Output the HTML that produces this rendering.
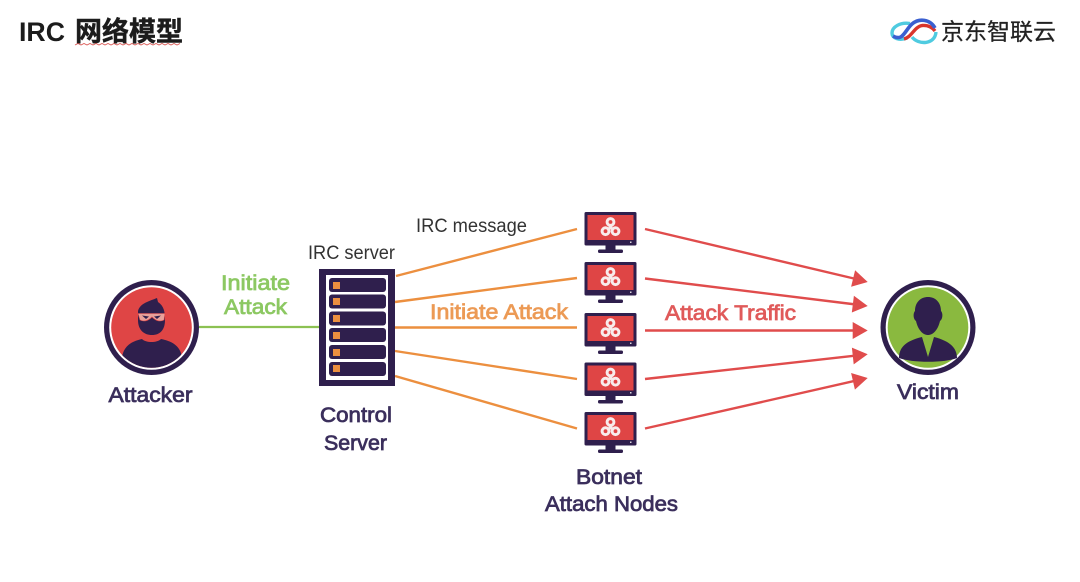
<!DOCTYPE html>
<html><head><meta charset="utf-8"><style>
html,body{margin:0;padding:0;background:#fff}
svg{display:block}
text{font-family:"Liberation Sans","Noto Sans CJK SC",sans-serif}
.n{fill:#3b2f5c;font-size:21px;stroke:#3b2f5c;stroke-width:.75}
</style></head><body>
<svg width="1080" height="582" viewBox="0 0 1080 582" xmlns="http://www.w3.org/2000/svg">
<defs>
<g id="mon">
<rect x="0" y="0" width="52" height="33.5" rx="1.5" fill="#2f1f4d"/>
<rect x="3" y="3" width="46" height="25" fill="#df4545"/>
<rect x="21" y="33" width="10" height="5" fill="#2f1f4d"/>
<rect x="13.5" y="37.5" width="25" height="3.5" rx="1.5" fill="#2f1f4d"/>
<g fill="none" stroke="#f8ecec">
<circle cx="26" cy="10" r="3.4" stroke-width="3"/>
<circle cx="21" cy="19.2" r="3.4" stroke-width="3"/>
<circle cx="31" cy="19.2" r="3.4" stroke-width="3"/>
</g>
<circle cx="26" cy="15.5" r="2" fill="#f8ecec"/>
<rect x="45.5" y="29.5" width="1.5" height="1.5" fill="#dcd8e4"/>
</g>
</defs>

<!-- title -->
<text x="19" y="41" font-size="27" font-weight="bold" fill="#1c1c1c" textLength="46" lengthAdjust="spacingAndGlyphs">IRC</text>
<text x="75" y="41" font-size="27" font-weight="bold" fill="#1c1c1c" textLength="108" lengthAdjust="spacingAndGlyphs" stroke="#1c1c1c" stroke-width=".5">网络模型</text>
<path d="M75 45 l3 -1.5 3 1.5 3 -1.5 3 1.5 3 -1.5 3 1.5 3 -1.5 3 1.5 3 -1.5 3 1.5 3 -1.5 3 1.5 3 -1.5 3 1.5 3 -1.5 3 1.5 3 -1.5 3 1.5 3 -1.5 3 1.5 3 -1.5 3 1.5 3 -1.5 3 1.5 3 -1.5 3 1.5 3 -1.5 3 1.5 3 -1.5 3 1.5 3 -1.5 3 1.5 3 -1.5 3 1.5 3 -1.5" fill="none" stroke="#d9534f" stroke-width="0.8"/>

<!-- logo -->
<path d="M910 23.5 C900 22 892 27 892 33 C892 38 899 41 907 38" fill="none" stroke="#4fcbe0" stroke-width="3.4"/>
<path d="M912 37 C918 45 935 45 936 32" fill="none" stroke="#4fcbe0" stroke-width="3.4"/>
<path d="M904 39 C912 37 914 27 922 25.5 C928 25 932 27 935 31" fill="none" stroke="#d9352c" stroke-width="3.4"/>
<path d="M893 36 C903 42 905 30 912 24 C919 18 930 19 935 28" fill="none" stroke="#3a5fd0" stroke-width="3.6"/>
<text x="941" y="39.5" font-size="23" fill="#222" stroke="#222" stroke-width=".25" textLength="115" lengthAdjust="spacingAndGlyphs">京东智联云</text>

<!-- green line -->
<line x1="199" y1="327" x2="320" y2="327" stroke="#8cc152" stroke-width="2.2"/>

<!-- orange lines -->
<g stroke="#ec8f3f" stroke-width="2.4" fill="none">
<line x1="396" y1="276" x2="577" y2="229"/>
<line x1="395" y1="302" x2="577" y2="278"/>
<line x1="395" y1="327.5" x2="577" y2="327.5"/>
<line x1="395" y1="351" x2="577" y2="379"/>
<line x1="395" y1="376" x2="577" y2="428.5"/>
</g>

<!-- red arrows -->
<g stroke="#e04c4c" stroke-width="2.4" fill="none">
<line x1="645" y1="229" x2="856" y2="279"/>
<line x1="645" y1="278.5" x2="856" y2="304.5"/>
<line x1="645" y1="330.5" x2="856" y2="330.5"/>
<line x1="645" y1="379" x2="856" y2="355.6"/>
<line x1="645" y1="428.5" x2="856" y2="380.6"/>
</g>
<g fill="#e04c4c">
<polygon points="867.7,282 855.1,270.2 851.1,286.8"/>
<polygon points="867.7,306 853.9,295.7 851.8,312.5"/>
<polygon points="867.7,330.5 852.7,322 852.7,339"/>
<polygon points="867.7,354.3 851.9,347.6 853.7,364.4"/>
<polygon points="867.7,378 851.1,373 854.9,389.6"/>
</g>

<!-- attacker -->
<circle cx="151.5" cy="327.5" r="47.5" fill="#2f1f4d"/>
<circle cx="151.5" cy="327.5" r="42.3" fill="#fff"/>
<circle cx="151.5" cy="327.5" r="40.3" fill="#df4545"/>
<clipPath id="ca"><circle cx="151.5" cy="327.5" r="40.3"/></clipPath>
<g clip-path="url(#ca)" fill="#2f1f4d">
<path d="M122 357 C124 345 133 341 142 339 C146 343 157 343 161 339 C171 341 180 345 182 357 C170 372 135 372 122 357Z"/>
<path d="M138 311 C140 303 150 301 157 298 L158 302 C164 306 165 312 165 320 C165 330 160 335 152 335 C144 335 138 330 138 320Z"/>
</g>
<path d="M138 313.5 L165 313.5 L164 320 C160 322 156 321 152 317 C148 321 144 322 140 320Z" fill="#e8a09a" stroke="#df4545" stroke-width="0.6"/>
<path d="M142 315.5 L149 316.5 L146 319 Z M161 315.5 L154 316.5 L157 319 Z" fill="#2f1f4d"/>

<!-- server -->
<rect x="319" y="269" width="76" height="117" fill="#2f1f4d"/>
<rect x="326" y="275" width="62" height="105" fill="#fff"/>
<g fill="#2f1f4d">
<rect x="329" y="278" width="57" height="14" rx="3"/>
<rect x="329" y="294.5" width="57" height="14" rx="3"/>
<rect x="329" y="311.5" width="57" height="14" rx="3"/>
<rect x="329" y="328" width="57" height="14" rx="3"/>
<rect x="329" y="345" width="57" height="14" rx="3"/>
<rect x="329" y="362" width="57" height="14" rx="3"/>
</g>
<g fill="#ec8f3f">
<rect x="333" y="282" width="7" height="7"/>
<rect x="333" y="298" width="7" height="7"/>
<rect x="333" y="315" width="7" height="7"/>
<rect x="333" y="332" width="7" height="7"/>
<rect x="333" y="349" width="7" height="7"/>
<rect x="333" y="365" width="7" height="7"/>
</g>

<!-- monitors -->
<use href="#mon" x="584.5" y="212"/>
<use href="#mon" x="584.5" y="262"/>
<use href="#mon" x="584.5" y="313"/>
<use href="#mon" x="584.5" y="362.5"/>
<use href="#mon" x="584.5" y="412"/>

<!-- victim -->
<circle cx="928" cy="327.5" r="47.5" fill="#2f1f4d"/>
<circle cx="928" cy="327.5" r="42.3" fill="#fff"/>
<circle cx="928" cy="327.5" r="40.3" fill="#8ab93f"/>
<g fill="#2f1f4d">
<path d="M899 358 C899 348 905 341 922 337 L928 357 L934 337 C950 341 957 348 957 358 C945 363 912 363 899 358Z"/>
<path d="M915 311 C915 302 921 297 928 297 C935 297 941 302 941 311 C943 313 943 319 940 321 C938 330 933 335 928 335 C923 335 918 330 916 321 C913 319 913 313 915 311Z"/>
</g>

<!-- labels -->
<text class="n" x="108.5" y="402" textLength="84" lengthAdjust="spacingAndGlyphs">Attacker</text>
<text class="n" x="897" y="399" textLength="62" lengthAdjust="spacingAndGlyphs">Victim</text>
<text class="n" x="320" y="422" textLength="72" lengthAdjust="spacingAndGlyphs">Control</text>
<text class="n" x="324" y="450" textLength="63" lengthAdjust="spacingAndGlyphs">Server</text>
<text class="n" x="576" y="484" textLength="66" lengthAdjust="spacingAndGlyphs">Botnet</text>
<text class="n" x="545" y="511" textLength="133" lengthAdjust="spacingAndGlyphs">Attach Nodes</text>
<text x="221" y="290" font-size="21" fill="#8cc862" stroke="#8cc862" stroke-width=".75" textLength="69" lengthAdjust="spacingAndGlyphs">Initiate</text>
<text x="224" y="314" font-size="21" fill="#8cc862" stroke="#8cc862" stroke-width=".75" textLength="63" lengthAdjust="spacingAndGlyphs">Attack</text>
<text x="430" y="319" font-size="21" fill="#ec9a55" stroke="#ec9a55" stroke-width=".75" textLength="138" lengthAdjust="spacingAndGlyphs">Initiate Attack</text>
<text x="665" y="320" font-size="21" fill="#e05a5a" stroke="#e05a5a" stroke-width=".75" textLength="131" lengthAdjust="spacingAndGlyphs">Attack Traffic</text>
<text x="416" y="232" font-size="19" fill="#333" textLength="111" lengthAdjust="spacingAndGlyphs">IRC message</text>
<text x="308" y="259" font-size="19" fill="#333" textLength="87" lengthAdjust="spacingAndGlyphs">IRC server</text>
</svg>
</body></html>
